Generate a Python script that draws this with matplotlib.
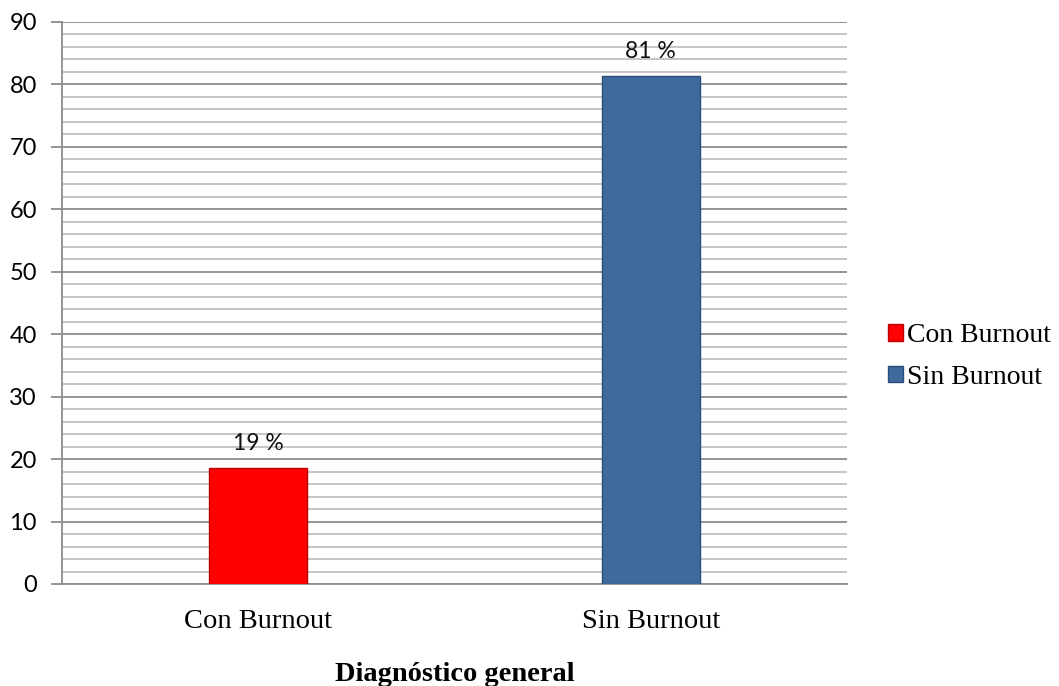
import numpy as np
import matplotlib.pyplot as plt
from matplotlib.patches import Patch

# data
categories = ["Con Burnout", "Sin Burnout"]
values = [18.6, 81.4]
labels = ["19 %", "81 %"]
colors = ["#ff0000", "#3f6a9e"]
edges = ["#c00000", "#2c4d77"]

fig = plt.figure(figsize=(10.59, 6.86), dpi=100)
ax = fig.add_axes([62 / 1059, 102 / 686, 785 / 1059, 562 / 686])

x = np.arange(len(categories))
bars = ax.bar(x, values, width=0.25, color=colors, edgecolor=edges,
              linewidth=1.0, zorder=3)

for b, lab in zip(bars, labels):
  ax.text(b.get_x() + b.get_width() / 2, b.get_height() + 2.2, lab,
          ha="center", va="bottom", fontsize=16.5,
          family="Lato", color="#111111")

ax.set_xlim(-0.5, 1.5)
ax.set_ylim(0, 90)
ax.set_yticks(np.arange(0, 91, 10))
ax.set_yticks(np.arange(0, 91, 2), minor=True)
ax.grid(axis="y", which="major", color="#8c8c8c", linewidth=1.3, zorder=0)
ax.grid(axis="y", which="minor", color="#c0c0c0", linewidth=1.3, zorder=0)
ax.set_axisbelow(True)

for s in ["top", "right"]:
  ax.spines[s].set_visible(False)
ax.spines["left"].set_color("#8c8c8c")
ax.spines["bottom"].set_color("#8c8c8c")
ax.spines["left"].set_linewidth(1.3)
ax.spines["bottom"].set_linewidth(1.3)

ax.set_xticks(x)
ax.set_xticklabels(categories, family="Liberation Serif")
for t in ax.get_yticklabels():
  t.set_family("Lato")
ax.tick_params(axis="y", which="major", length=8, width=1.3, color="#8c8c8c",
               pad=10, labelsize=17)
ax.tick_params(axis="y", which="minor", length=0)
ax.tick_params(axis="x", length=0, pad=18, labelsize=20.5)

ax.set_xlabel("Diagnóstico general", family="Liberation Serif",
              fontweight="bold", fontsize=20.5, labelpad=20)

handles = [Patch(facecolor=c, edgecolor=e) for c, e in zip(colors, edges)]
ax.legend(handles, categories, loc="center left",
          bbox_to_anchor=(1.02, 0.405), frameon=False,
          prop={"family": "Liberation Serif", "size": 20},
          handlelength=0.55, handleheight=0.55, handletextpad=0.15,
          labelspacing=0.6)

fig.savefig("out.png", dpi=100)
